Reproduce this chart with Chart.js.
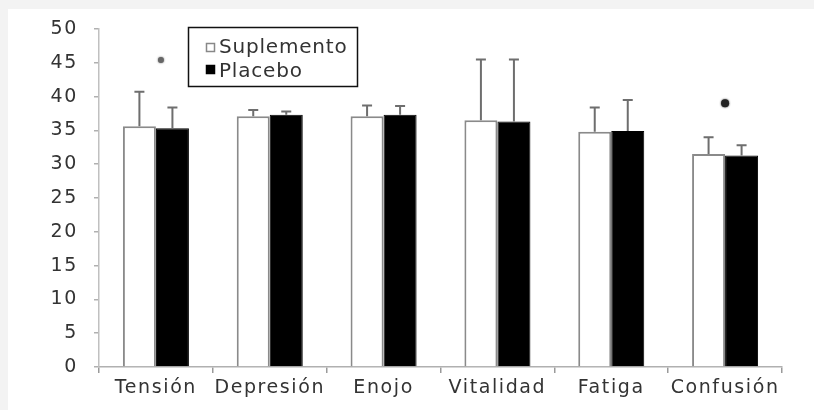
<!DOCTYPE html>
<html>
<head>
<meta charset="utf-8">
<script src="https://cdn.jsdelivr.net/npm/chart.js@4.4.0/dist/chart.umd.min.js"></script>
<style>
    html, body { margin: 0; padding: 0; background: #f3f3f3; }
    #wrap { width: 814px; height: 410px; position: relative; }
</style>
</head>
<body>
<div id="wrap"><canvas id="moodChart" width="814" height="410"></canvas></div>
<script>
// Categories and series
const categories = ['Tensión', 'Depresión', 'Enojo', 'Vitalidad', 'Fatiga', 'Confusión'];
const suplemento = [35.6, 37.1, 37.1, 36.5, 34.8, 31.5];
const placebo = [35.3, 37.3, 37.3, 36.3, 34.9, 31.3];
// Standard deviations (upper bar only)
const suplementoErr = [5.1, 0.9, 1.6, 9.0, 3.6, 2.5];
const placeboErr = [3.1, 0.5, 1.3, 9.2, 4.6, 1.5];
// Significance marks: category and height on the value axis
const starCategories = ['Tensión', 'Confusión'];
const starValues = [45.4, 39.0];
const yTicks = [0, 5, 10, 15, 20, 25, 30, 35, 40, 45, 50];

const FONT = '"DejaVu Sans", Verdana, sans-serif';
const SPACING = '1.6px';

// Wide Verdana-like lettering for every label
const spacingPlugin = {
    id: 'spacing',
    beforeUpdate(chart) { chart.ctx.letterSpacing = SPACING; },
    beforeLayout(chart) { chart.ctx.letterSpacing = SPACING; },
    beforeDraw(chart) { chart.ctx.letterSpacing = SPACING; }
};

// Page background: grey strip top/left, white plot panel
const backgroundPlugin = {
    id: 'panel',
    beforeDraw(chart) {
        const c = chart.ctx;
        c.save();
        c.fillStyle = '#f3f3f3';
        c.fillRect(0, 0, chart.width, chart.height);
        c.fillStyle = '#ffffff';
        c.fillRect(8, 9, chart.width - 8, chart.height - 9);
        c.restore();
    }
};

// Upper error bars with caps
const errorBarPlugin = {
    id: 'errorBars',
    afterDatasetsDraw(chart) {
        const c = chart.ctx;
        const y = chart.scales.y;
        const errs = [suplementoErr, placeboErr];
        c.save();
        c.strokeStyle = '#6e6e6e';
        c.lineWidth = 2;
        chart.data.datasets.forEach((ds, di) => {
            const meta = chart.getDatasetMeta(di);
            meta.data.forEach((bar, i) => {
                const top = y.getPixelForValue(ds.data[i] + errs[di][i]);
                c.beginPath();
                c.moveTo(bar.x, bar.y);
                c.lineTo(bar.x, top);
                c.moveTo(bar.x - 5, top);
                c.lineTo(bar.x + 5, top);
                c.stroke();
            });
        });
        c.restore();
    }
};

// Asterisks and the boxed legend
const annotationPlugin = {
    id: 'annotations',
    afterDraw(chart) {
        const c = chart.ctx;
        const x = chart.scales.x;
        const y = chart.scales.y;
        c.save();
        starCategories.forEach((cat, k) => {
            const idx = categories.indexOf(cat);
            const px = x.getPixelForValue(idx) + (k === 0 ? 5 : 0);
            const py = y.getPixelForValue(starValues[k]);
            c.fillStyle = k === 0 ? '#666666' : '#222222';
            c.shadowColor = c.fillStyle;
            c.shadowBlur = 2;
            c.beginPath();
            c.arc(px, py, k === 0 ? 3 : 4, 0, Math.PI * 2);
            c.fill();
        });
        c.shadowBlur = 0;

        // legend box
        c.strokeStyle = '#111111';
        c.lineWidth = 1.5;
        c.strokeRect(188.5, 27.5, 169, 59);
        c.font = '20px ' + FONT;
        c.letterSpacing = '0.8px';
        c.textBaseline = 'alphabetic';
        chart.data.datasets.forEach((ds, i) => {
            const ry = 43 + i * 22;
            c.fillStyle = ds.backgroundColor;
            c.fillRect(206, ry, 9, 9);
            c.strokeStyle = i === 0 ? '#888888' : '#000000';
            c.lineWidth = 1.5;
            c.strokeRect(206.5, ry + 0.5, 8, 8);
            c.fillStyle = '#333333';
            c.fillText(ds.label, 219, 53 + i * 24);
        });
        c.restore();
    }
};

new Chart(document.getElementById('moodChart'), {
    type: 'bar',
    data: {
        labels: categories,
        datasets: [
            {
                label: 'Suplemento',
                data: suplemento,
                backgroundColor: '#ffffff',
                borderColor: '#8a8a8a',
                borderWidth: 2,
                categoryPercentage: 0.58,
                barPercentage: 1
            },
            {
                label: 'Placebo',
                data: placebo,
                backgroundColor: '#000000',
                borderColor: '#000000',
                borderWidth: 1,
                categoryPercentage: 0.58,
                barPercentage: 1
            }
        ]
    },
    options: {
        responsive: false,
        animation: false,
        devicePixelRatio: 1,
        layout: { padding: { left: 0, right: 32, top: 29, bottom: 0 } },
        plugins: {
            legend: { display: false },
            tooltip: { enabled: false }
        },
        scales: {
            x: {
                grid: {
                    display: true,
                    drawOnChartArea: false,
                    tickLength: 6,
                    tickColor: '#9a9a9a',
                    lineWidth: 1.5
                },
                border: { color: '#b0b0b0', width: 1.5 },
                ticks: {
                    color: '#333333',
                    font: { family: FONT, size: 19 },
                    padding: 4,
                    maxRotation: 0,
                    autoSkip: false
                },
                afterFit(scale) { scale.height = 43; }
            },
            y: {
                min: 0,
                max: 50,
                afterBuildTicks(scale) {
                    scale.ticks = yTicks.map(v => ({ value: v }));
                },
                grid: {
                    display: true,
                    drawOnChartArea: false,
                    tickLength: 5,
                    tickColor: '#b0b0b0',
                    lineWidth: 1.5
                },
                border: { color: '#c0c0c0', width: 1.5 },
                ticks: {
                    color: '#333333',
                    font: { family: FONT, size: 19 },
                    padding: 16
                },
                afterFit(scale) { scale.width = 99; }
            }
        }
    },
    plugins: [spacingPlugin, backgroundPlugin, errorBarPlugin, annotationPlugin]
});
</script>
</body>
</html>
